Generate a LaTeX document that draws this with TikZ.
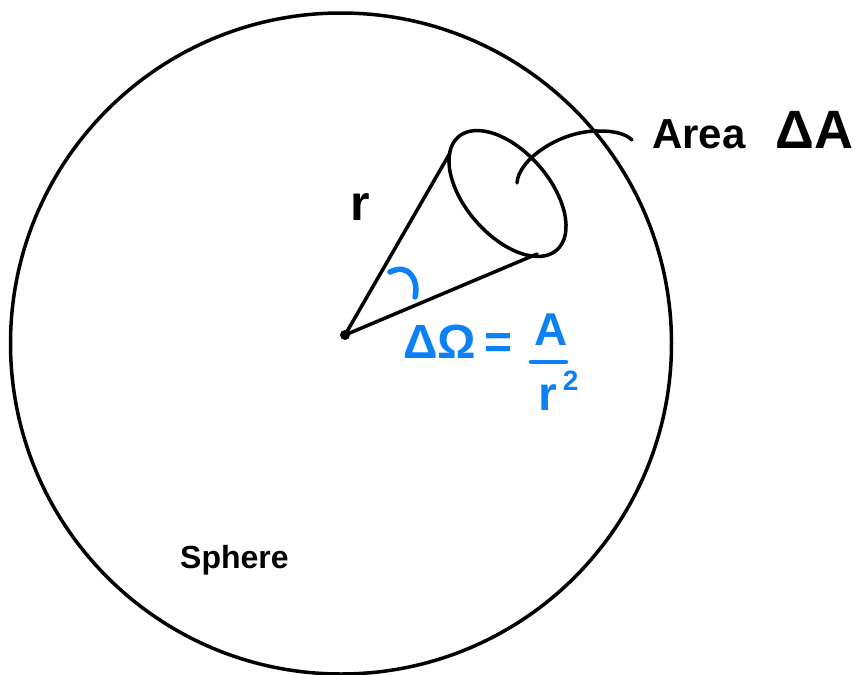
\documentclass[tikz,border=0pt]{standalone}
\usepackage{fontspec}
\setmainfont{Liberation Sans}
\usetikzlibrary{shapes.geometric}
\definecolor{inkblue}{RGB}{12,128,245}
\tikzset{
  ink/.style={line width=3.5pt, line cap=round, line join=round},
  blueink/.style={inkblue, line width=5.5pt, line cap=round},
  lbl/.style={inner sep=0pt, anchor=base west, font=\bfseries},
}
\newcommand{\fs}[1]{\fontsize{#1}{#1}\selectfont}
\begin{document}
\begin{tikzpicture}[x=1pt,y=-1pt]
\useasboundingbox (0,0) rectangle (868,675);
% sphere
\node[circle, draw, ink, minimum size=661pt, inner sep=0pt] (sphere) at (341,343.5) {};
% apex
\coordinate (O) at (345,335);
\fill (O) circle (5pt);
% disk of area A
\node[ellipse, draw, ink, minimum width=150pt, minimum height=84pt, inner sep=0pt, rotate=-49] (disk) at (507.5,193.5) {};
\coordinate (T1) at (450,153);
\coordinate (T2) at (537,254);
\draw[ink] (O) -- (T1);
\draw[ink] (O) -- (T2);
% leader to label
\coordinate (L0) at (517,183);
\coordinate (L1) at (632,140);
\draw[ink] (L0) .. controls (518,160) and (560,130) .. (600,131) .. controls (615,131) and (626,134) .. (L1);
\node[lbl] (area) at (652,148) {\fs{42}Area\hspace{30pt}{\fs{54}ΔA}};
% radius label
\node[lbl] (r) at (350,220) {\fs{50}r};
% solid angle
\draw[blueink] (390,272) .. controls (410,262) and (419,282) .. (415,297);
\node[lbl, text=inkblue] (omega) at (403,358) {\fs{48}ΔΩ\hspace{8pt}=};
\node[lbl, text=inkblue] (num) at (534,345) {\fs{46}A};
\draw[blueink, line width=4.5pt] (531,362) -- (566,362);
\node[lbl, text=inkblue] (den) at (538,410) {\fs{48}r\hspace{6pt}\raisebox{20pt}{\fs{28}2}};
% sphere label
\node[lbl] (sph) at (180,568) {\fs{32}Sphere};
\end{tikzpicture}
\end{document}
